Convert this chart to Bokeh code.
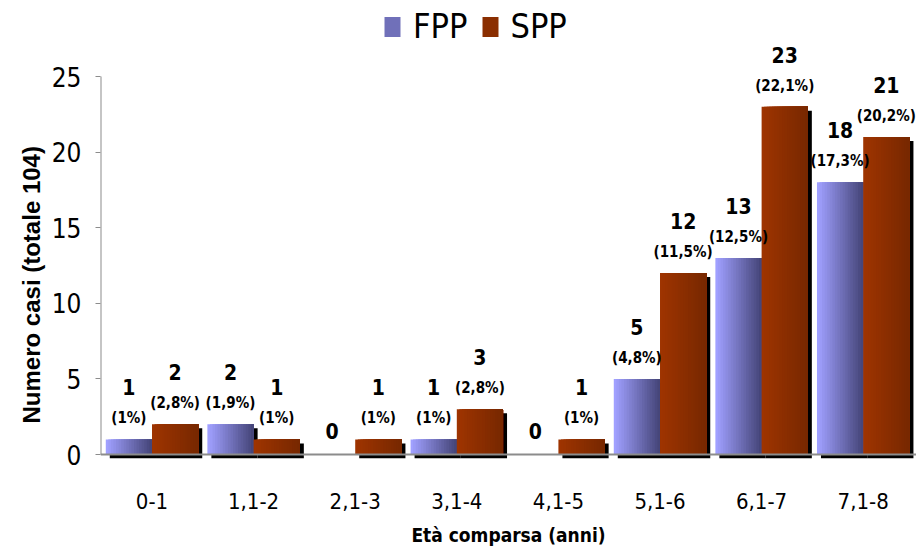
from bokeh.plotting import figure
from bokeh.models import (ColumnDataSource, FixedTicker, Range1d, Span, Legend, LegendItem, Title)
from bokeh.core.properties import value
from bokeh.embed import file_html
from bokeh.resources import INLINE

categories = ["0-1", "1,1-2", "2,1-3", "3,1-4", "4,1-5", "5,1-6", "6,1-7", "7,1-8"]
fpp = [1, 2, 0, 1, 0, 5, 13, 18]
spp = [2, 1, 1, 3, 1, 12, 23, 21]
fpp_pct = ["(1%)", "(1,9%)", "", "(1%)", "", "(4,8%)", "(12,5%)", "(17,3%)"]
spp_pct = ["(2,8%)", "(1%)", "(1%)", "(2,8%)", "(1%)", "(11,5%)", "(22,1%)", "(20,2%)"]
y_ticks = [0, 5, 10, 15, 20, 25]

COND = "DejaVu Sans Condensed"

W, H = 916, 548
ML, MR, MT, MB = 100, 0, 0, 90
PX_X = 101.6
X_START = -0.507
X_END = X_START + (W - ML - MR) / PX_X
PX_Y = 15.12
Y_START = -4 / PX_Y
Y_END = Y_START + (H - MT - MB) / PX_Y

p = figure(width=W, height=H, output_backend="svg", toolbar_location=None,
           x_range=Range1d(X_START, X_END), y_range=Range1d(Y_START, Y_END),
           min_border_left=ML, min_border_right=MR, min_border_top=MT, min_border_bottom=MB)
p.outline_line_color = None
p.xgrid.visible = False
p.ygrid.visible = False

series = [
    dict(vals=fpp, pct=fpp_pct, left=-0.455, right=0.0, c0=(160, 160, 255), c1=(70, 70, 122)),
    dict(vals=spp, pct=spp_pct, left=0.0, right=0.455, c0=(158, 52, 0), c1=(120, 40, 0)),
]

dx = 4 / PX_X
dy = 4 / PX_Y
N = 18

sh = dict(l=[], r=[], b=[], t=[])
for s in series:
    for i, v in enumerate(s["vals"]):
        if v > 0:
            sh["l"].append(i + s["left"] + dx)
            sh["r"].append(i + s["right"] + dx)
            sh["b"].append(-dy)
            sh["t"].append(v - dy)
p.quad(left="l", right="r", bottom="b", top="t", source=ColumnDataSource(sh),
       fill_color="black", line_color=None)

bar_renderers = []
for s in series:
    d = dict(l=[], r=[], t=[], b=[], c=[])
    for i, v in enumerate(s["vals"]):
        if v <= 0:
            continue
        x0 = i + s["left"]
        x1 = i + s["right"]
        w = (x1 - x0) / N
        for k in range(N):
            f = k / (N - 1)
            col = tuple(int(round(a + (b - a) * f)) for a, b in zip(s["c0"], s["c1"]))
            d["l"].append(x0 + k * w)
            d["r"].append(x1)
            d["b"].append(0)
            d["t"].append(v)
            d["c"].append("#%02x%02x%02x" % col)
    r = p.quad(left="l", right="r", bottom="b", top="t", source=ColumnDataSource(d),
               fill_color="c", line_color=None)
    bar_renderers.append(r)

p.add_layout(Span(location=0, dimension="width", line_color="#8c8c8c", line_width=2))
p.segment(x0=[X_START], y0=[0], x1=[X_START], y1=[y_ticks[-1]], line_color="#8c8c8c", line_width=2)

for s in series:
    cx = [i + (s["left"] + s["right"]) / 2 for i in range(len(categories))]
    nz = [i for i, v in enumerate(s["vals"]) if v > 0]
    z = [i for i, v in enumerate(s["vals"]) if v == 0]
    p.text(x=[cx[i] for i in nz], y=[s["vals"][i] for i in nz],
           text=[str(s["vals"][i]) for i in nz], y_offset=-52,
           text_align="center", text_baseline="middle",
           text_font=value(COND), text_font_style="bold", text_font_size="21px",
           text_color="black")
    p.text(x=[cx[i] for i in nz], y=[s["vals"][i] for i in nz],
           text=[s["pct"][i] for i in nz], y_offset=-21,
           text_align="center", text_baseline="middle",
           text_font=value(COND), text_font_style="bold", text_font_size="15px",
           text_color="black")
    if z:
        p.text(x=[cx[i] for i in z], y=[s["vals"][i] for i in z],
               text=[str(s["vals"][i]) for i in z], y_offset=-24,
               text_align="center", text_baseline="middle",
               text_font=value(COND), text_font_style="bold", text_font_size="21px",
               text_color="black")

p.xaxis.ticker = FixedTicker(ticks=list(range(len(categories))))
p.xaxis.major_label_overrides = {i: c for i, c in enumerate(categories)}
p.xaxis.axis_line_color = None
p.xaxis.major_tick_line_color = None
p.xaxis.minor_tick_line_color = None
p.xaxis.major_label_standoff = 28
p.xaxis.major_label_text_font = COND
p.xaxis.major_label_text_font_size = "22px"
p.xaxis.major_label_text_color = "black"
p.xaxis.axis_label = "Età comparsa (anni)"
p.xaxis.axis_label_text_font = COND
p.xaxis.axis_label_text_font_style = "bold"
p.xaxis.axis_label_text_font_size = "19px"
p.xaxis.axis_label_text_color = "black"
p.xaxis.axis_label_standoff = 12

p.yaxis.ticker = FixedTicker(ticks=y_ticks)
p.yaxis.axis_line_color = None
p.yaxis.major_tick_line_color = "#8c8c8c"
p.yaxis.major_tick_out = 5
p.yaxis.major_tick_in = 0
p.yaxis.minor_tick_line_color = None
p.yaxis.major_label_standoff = 14
p.yaxis.major_label_text_font = COND
p.yaxis.major_label_text_font_size = "26px"
p.yaxis.major_label_text_color = "black"

ytitle = Title(text="Numero casi (totale 104)", align="left", offset=35, standoff=8,
               text_font="Liberation Sans", text_font_style="bold", text_font_size="24px",
               text_color="black")
p.add_layout(ytitle, "left")

legend = Legend(items=[LegendItem(label="FPP", renderers=[bar_renderers[0]], index=N // 2),
                       LegendItem(label="SPP", renderers=[bar_renderers[1]], index=N // 2)],
                orientation="horizontal", location=(282, 412),
                glyph_width=20, glyph_height=25, label_standoff=11, spacing=12,
                padding=0, margin=0, border_line_color=None, background_fill_alpha=0,
                label_text_font=COND, label_text_font_size="34px", label_text_color="black")
p.add_layout(legend)

open("out.html", "w").write(file_html(p, INLINE))
